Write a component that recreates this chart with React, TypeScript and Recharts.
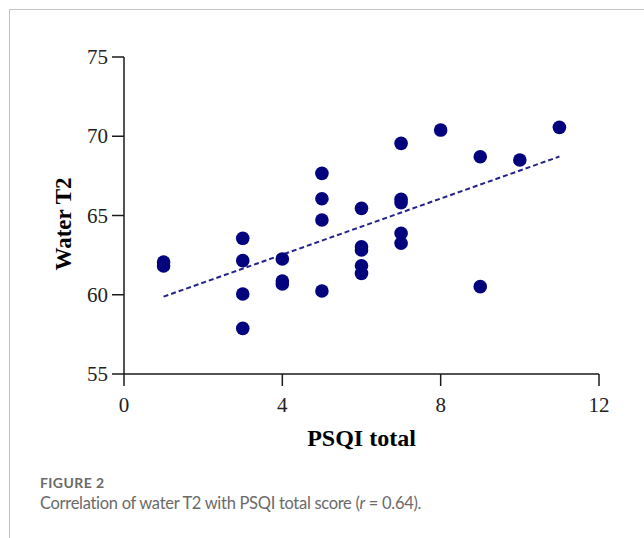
import React from "react";
import { ReferenceLine, Scatter, ScatterChart, XAxis, YAxis } from "recharts";

// PSQI total score per subject
const psqiTotal = [1, 1, 3, 3, 3, 3, 4, 4, 4, 5, 5, 5, 5, 6, 6, 6, 6, 6, 7, 7, 7, 7, 7, 8, 9, 9, 10, 11];
// water T2 per subject (same order)
const waterT2 = [
  62.07, 61.81, 63.56, 62.15, 60.05, 57.88, 62.26, 60.87, 60.68, 67.66, 66.06, 64.72, 60.24, 65.45, 63.03, 62.82,
  61.83, 61.35, 69.55, 66.02, 65.81, 63.88, 63.25, 70.39, 68.71, 60.51, 68.5, 70.56,
];

// fitted line ends as drawn in the figure
const fitX = [1, 11];
const fitY = [59.88, 68.72];

const xTicks = [0, 4, 8, 12];
const yTicks = [55, 60, 65, 70, 75];

const points = psqiTotal.map((x, i) => ({ x, y: waterT2[i] }));

const dotColor = "#03037e";
const axisColor = "#1a1a1a";
const serif = "'Liberation Serif', 'Times New Roman', serif";

function Dot(props: { cx?: number; cy?: number }) {
  if (props.cx == null || props.cy == null) return null;
  return <circle cx={props.cx} cy={props.cy} r={6.8} fill={dotColor} />;
}

type TickProps = { x?: number; y?: number; payload?: { value: number } };

function XTick({ x = 0, y = 0, payload }: TickProps) {
  return (
    <text x={x} y={y + 15} textAnchor="middle" fontFamily={serif} fontSize={21} fill="#222">
      {payload?.value}
    </text>
  );
}

function YTick({ x = 0, y = 0, payload }: TickProps) {
  return (
    <text x={x} y={y + 7} textAnchor="end" fontFamily={serif} fontSize={21} fill="#222">
      {payload?.value}
    </text>
  );
}

function YLabel() {
  const cx = 63;
  const cy = 224;
  return (
    <text
      x={cx}
      y={cy}
      transform={`rotate(-90 ${cx} ${cy})`}
      textAnchor="middle"
      dominantBaseline="central"
      fontFamily={serif}
      fontWeight="bold"
      fontSize={23}
      fill="#000"
    >
      Water T2
    </text>
  );
}

export default function App() {
  return (
    <div style={{ position: "absolute", left: 0, top: 0, width: 644, height: 538, background: "#fff", overflow: "hidden" }}>
      <div
        style={{
          position: "absolute",
          left: 9,
          top: 9,
          right: -2,
          bottom: -2,
          borderLeft: "1px solid #c4c4c4",
          borderTop: "1px solid #c4c4c4",
        }}
      />
      <div style={{ position: "absolute", left: 0, top: 0 }}>
        <ScatterChart width={644} height={470} margin={{ top: 57, right: 45, left: 0, bottom: 0 }}>
          <XAxis
            type="number"
            dataKey="x"
            domain={[0, 12]}
            ticks={xTicks}
            height={96}
            tickSize={12}
            tickMargin={11}
            stroke={axisColor}
            strokeWidth={1.5}
            tick={<XTick />}
            label={{
              value: "PSQI total",
              position: "insideTop",
              offset: 55,
              fill: "#000",
              fontSize: 24,
              fontWeight: "bold",
              fontFamily: serif,
            }}
          />
          <YAxis
            type="number"
            dataKey="y"
            domain={[55, 75]}
            ticks={yTicks}
            width={124}
            tickSize={12}
            tickMargin={4}
            stroke={axisColor}
            strokeWidth={1.5}
            tick={<YTick />}
            label={<YLabel />}
          />
          <ReferenceLine
            segment={[
              { x: fitX[0], y: fitY[0] },
              { x: fitX[1], y: fitY[1] },
            ]}
            stroke="#23238c"
            strokeWidth={2}
            strokeDasharray="5 3"
            ifOverflow="visible"
          />
          <Scatter data={points} fill={dotColor} shape={<Dot />} isAnimationActive={false} />
        </ScatterChart>
      </div>
      <div
        style={{
          position: "absolute",
          left: 40,
          top: 475,
          fontFamily: "Lato, 'Open Sans', sans-serif",
          color: "#6a6a6a",
        }}
      >
        <div style={{ fontSize: 14, fontWeight: 700, letterSpacing: 0.4, lineHeight: "16px" }}>FIGURE 2</div>
        <div style={{ fontSize: 16.5, lineHeight: "22px", marginTop: 1, letterSpacing: -0.3 }}>
          Correlation of water T2 with PSQI total score (<i>r</i> = 0.64).
        </div>
      </div>
    </div>
  );
}
